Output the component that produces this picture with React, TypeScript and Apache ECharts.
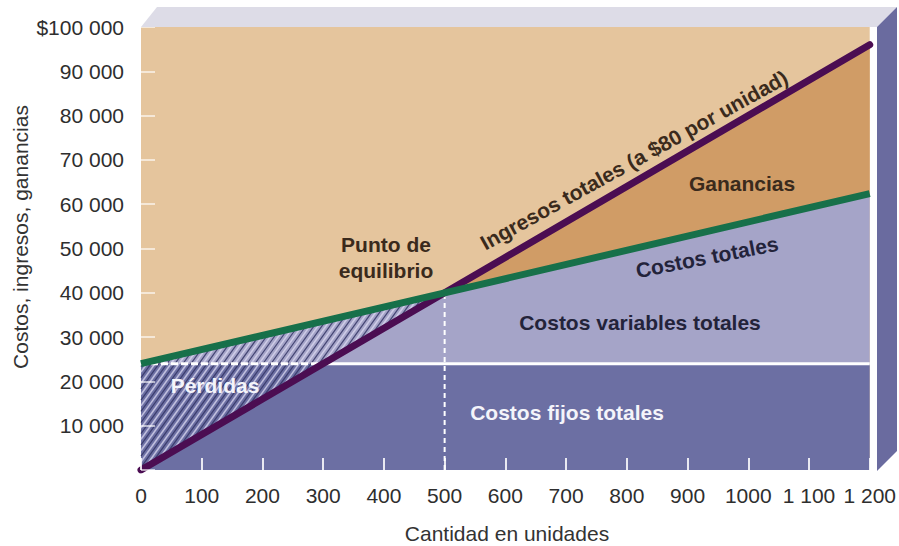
import React, { useEffect, useRef } from "react";
import * as echarts from "echarts";

// ---- data ----
const unidades = [0, 500, 1200];
const ingresosTotales = [0, 40000, 96000];
const costosTotales = [24000, 40000, 62400];
const costosFijos = [24000, 24000, 24000];
const puntoEquilibrio = [500, 40000];
const cruceIngresosFijos = 300; // where revenue crosses fixed cost
const xTickValues = [0, 100, 200, 300, 400, 500, 600, 700, 800, 900, 1000, 1100, 1200];
const xTickLabels = ["0", "100", "200", "300", "400", "500", "600", "700", "800", "900", "1000", "1 100", "1 200"];
const yTickValues = [0, 10000, 20000, 30000, 40000, 50000, 60000, 70000, 80000, 90000, 100000];
const yTickLabels = ["", "10 000", "20 000", "30 000", "40 000", "50 000", "60 000", "70 000", "80 000", "90 000", "$100 000"];

const FONT = "'Liberation Sans', Arial, Helvetica, sans-serif";

const zip = (xs: number[], ys: number[]) => xs.map((x, i) => [x, ys[i]]);

function polySeries(points: number[][], color: string, z: number) {
  return {
    type: "custom",
    silent: true,
    z,
    data: [[0, 0]],
    renderItem: (_p: any, api: any) => ({
      type: "polygon",
      shape: { points: points.map((p) => api.coord(p)) },
      style: { fill: color },
    }),
  };
}

export default function App() {
  const ref = useRef<HTMLDivElement>(null);
  useEffect(() => {
    if (!ref.current) return;
    document.body.style.margin = "0";
    const chart = echarts.init(ref.current, null, { renderer: "svg" });
    const last = unidades.length - 1;
    const xMax = unidades[last];

    const hatchSeries = {
      type: "custom",
      silent: true,
      z: 4,
      data: [[0, 0]],
      renderItem: (_p: any, api: any) => {
        const A = api.coord([unidades[0], ingresosTotales[0]]);
        const B = api.coord([unidades[0], costosTotales[0]]);
        const C = api.coord(puntoEquilibrio);
        const tri = [A, B, C];
        const s = 1.4;
        const f = (p: number[]) => p[1] + s * p[0];
        const fs = tri.map(f);
        const minF = Math.min(...fs);
        const maxF = Math.max(...fs);
        const step = 4 * s;
        const children: any[] = [];
        let k = 0;
        for (let c = minF + step / 2; c < maxF; c += step, k++) {
          const pts: number[][] = [];
          for (let i = 0; i < 3; i++) {
            const P = tri[i];
            const Q = tri[(i + 1) % 3];
            const fp = f(P) - c;
            const fq = f(Q) - c;
            if ((fp <= 0 && fq > 0) || (fp > 0 && fq <= 0)) {
              const t = fp / (fp - fq);
              pts.push([P[0] + t * (Q[0] - P[0]), P[1] + t * (Q[1] - P[1])]);
            }
          }
          if (pts.length >= 2) {
            const dark = k % 2 === 0;
            children.push({
              type: "line",
              shape: { x1: pts[0][0], y1: pts[0][1], x2: pts[1][0], y2: pts[1][1] },
              style: {
                stroke: dark ? "rgba(50,52,100,0.85)" : "rgba(220,218,242,0.75)",
                lineWidth: dark ? 1.2 : 1.6,
              },
            });
          }
        }
        return { type: "group", children };
      },
    };

    const option: any = {
      animation: false,
      grid: {
        left: 141,
        right: 22,
        top: 27,
        bottom: 76,
        show: true,
        backgroundColor: "#e5c59d",
        borderWidth: 0,
      },
      xAxis: {
        type: "value",
        min: 0,
        max: 1200,
        interval: 100,
        z: 10,
        axisLine: { show: false },
        splitLine: { show: false },
        axisTick: {
          show: true,
          inside: true,
          length: 12,
          lineStyle: { color: "rgba(255,255,255,0.85)", width: 2 },
        },
        axisLabel: {
          margin: 15,
          fontSize: 21,
          fontFamily: FONT,
          color: "#2e2e2e",
          formatter: (v: number) => {
            const i = xTickValues.indexOf(v);
            return i >= 0 ? xTickLabels[i] : "";
          },
        },
      },
      yAxis: {
        type: "value",
        min: 0,
        max: 100000,
        interval: 10000,
        z: 10,
        axisLine: { show: false },
        splitLine: { show: false },
        axisTick: {
          show: true,
          inside: true,
          length: 14,
          lineStyle: { color: "rgba(255,255,255,0.6)", width: 2 },
        },
        axisLabel: {
          margin: 17,
          fontSize: 21,
          fontFamily: FONT,
          color: "#2e2e2e",
          formatter: (v: number) => {
            const i = yTickValues.indexOf(v);
            return i >= 0 ? yTickLabels[i] : "";
          },
        },
      },
      series: [
        polySeries(
          [[unidades[0], 0], [xMax, 0], [xMax, costosFijos[last]], [unidades[0], costosFijos[0]]],
          "#6c6fa3",
          1
        ),
        polySeries(
          [[unidades[0], costosFijos[0]], [xMax, costosFijos[last]], [xMax, costosTotales[last]], [unidades[0], costosTotales[0]]],
          "#a5a4c8",
          2
        ),
        polySeries(
          [puntoEquilibrio, [xMax, ingresosTotales[last]], [xMax, costosTotales[last]]],
          "#d09c66",
          3
        ),
        hatchSeries,
        {
          type: "line",
          silent: true,
          z: 5,
          symbol: "none",
          data: [[unidades[0], costosFijos[0]], [cruceIngresosFijos, costosFijos[0]]],
          lineStyle: { color: "#ffffff", width: 3, type: [7, 3] },
        },
        {
          type: "line",
          silent: true,
          z: 5,
          symbol: "none",
          data: [[cruceIngresosFijos, costosFijos[0]], [xMax, costosFijos[last]]],
          lineStyle: { color: "#ffffff", width: 3 },
        },
        {
          type: "line",
          silent: true,
          z: 5,
          symbol: "none",
          data: [[puntoEquilibrio[0], 0], puntoEquilibrio],
          lineStyle: { color: "#ffffff", width: 2, type: [5, 4] },
        },
        {
          name: "Ingresos totales",
          type: "line",
          silent: true,
          z: 6,
          symbol: "none",
          data: zip(unidades, ingresosTotales),
          lineStyle: { color: "#4b0d52", width: 7, cap: "round" },
        },
        {
          name: "Costos totales",
          type: "line",
          silent: true,
          z: 7,
          symbol: "none",
          data: zip(unidades, costosTotales),
          lineStyle: { color: "#17704a", width: 7 },
        },
      ],
      graphic: [
        {
          type: "polygon",
          z: 100,
          silent: true,
          shape: { points: [[141, 27], [157, 7], [897, 7], [877, 27]] },
          style: { fill: "#dddce7" },
        },
        {
          type: "polygon",
          z: 100,
          silent: true,
          shape: { points: [[877, 27], [897, 7], [897, 451], [877, 471]] },
          style: { fill: "#6a6b9f" },
        },
        {
          type: "text",
          z: 100,
          x: 20,
          y: 237,
          rotation: Math.PI / 2,
          style: {
            text: "Costos, ingresos, ganancias",
            fill: "#333333",
            font: `21px ${FONT}`,
            align: "center",
            verticalAlign: "middle",
          },
        },
        {
          type: "text",
          z: 100,
          x: 507,
          y: 533,
          style: {
            text: "Cantidad en unidades",
            fill: "#333333",
            font: `21px ${FONT}`,
            align: "center",
            verticalAlign: "middle",
          },
        },
        {
          type: "text",
          z: 100,
          x: 386,
          y: 257,
          style: {
            text: "Punto de\nequilibrio",
            fill: "#3a2a1c",
            font: `bold 21px ${FONT}`,
            lineHeight: 26,
            align: "center",
            verticalAlign: "middle",
          },
        },
        {
          type: "text",
          z: 100,
          x: 634,
          y: 160,
          rotation: (29 * Math.PI) / 180,
          style: {
            text: "Ingresos totales (a $80 por unidad)",
            fill: "#3a2a1c",
            font: `bold 21px ${FONT}`,
            align: "center",
            verticalAlign: "middle",
          },
        },
        {
          type: "text",
          z: 100,
          x: 742,
          y: 183,
          style: {
            text: "Ganancias",
            fill: "#3a2a1c",
            font: `bold 21px ${FONT}`,
            align: "center",
            verticalAlign: "middle",
          },
        },
        {
          type: "text",
          z: 100,
          x: 707,
          y: 257,
          rotation: (11 * Math.PI) / 180,
          style: {
            text: "Costos totales",
            fill: "#23233a",
            font: `bold 21px ${FONT}`,
            align: "center",
            verticalAlign: "middle",
          },
        },
        {
          type: "text",
          z: 100,
          x: 640,
          y: 322,
          style: {
            text: "Costos variables totales",
            fill: "#23233a",
            font: `bold 21px ${FONT}`,
            align: "center",
            verticalAlign: "middle",
          },
        },
        {
          type: "text",
          z: 100,
          x: 567,
          y: 412,
          style: {
            text: "Costos fijos totales",
            fill: "#f4f4fa",
            font: `bold 21px ${FONT}`,
            align: "center",
            verticalAlign: "middle",
          },
        },
        {
          type: "text",
          z: 100,
          x: 215,
          y: 385,
          style: {
            text: "Pérdidas",
            fill: "#f4f4fa",
            font: `bold 21px ${FONT}`,
            align: "center",
            verticalAlign: "middle",
          },
        },
      ],
    };
    chart.setOption(option);
    return () => chart.dispose();
  }, []);
  return <div ref={ref} style={{ width: 899, height: 546 }} />;
}
